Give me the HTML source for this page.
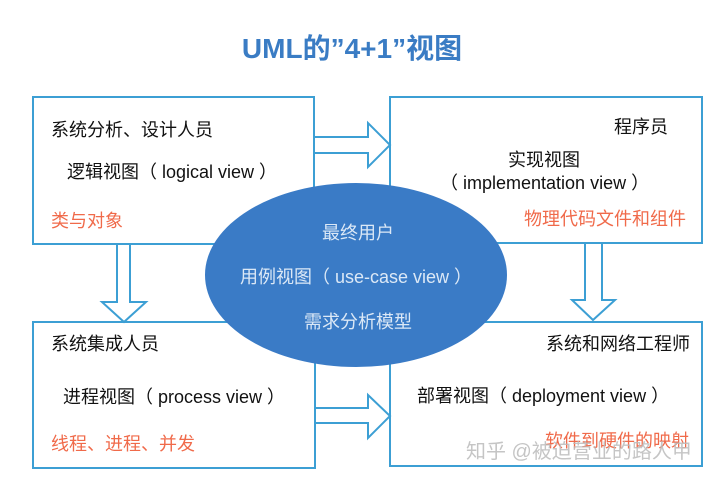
<!DOCTYPE html>
<html><head><meta charset="utf-8"><style>
html,body{margin:0;padding:0;background:#fff;}
svg text{font-family:"Liberation Sans","Noto Sans CJK SC",sans-serif;}
</style></head><body>
<svg width="720" height="480" viewBox="0 0 720 480" xmlns="http://www.w3.org/2000/svg">
<rect width="720" height="480" fill="#fff"/>
<text x="352" y="58" font-size="28" font-weight="bold" fill="#3a7cc4" text-anchor="middle">UML的”4+1”视图</text>
<g fill="#fff" stroke="#3c9fd4" stroke-width="2">
<rect x="33" y="97" width="281" height="147"/>
<rect x="390" y="97" width="312" height="146"/>
<rect x="33" y="322" width="282" height="146"/>
<rect x="390" y="322" width="312" height="144"/>
<polygon points="314,137 368,137 368,123 390,145 368,167 368,153 314,153"/>
<polygon points="315,408 368,408 368,395 390,416 368,438 368,423 315,423"/>
<polygon points="117,244 130,244 130,302 146,302 124,322 102,302 117,302"/>
<polygon points="585,243 602,243 602,300 615,300 593,320 572,300 585,300"/>
</g>
<ellipse cx="356" cy="275" rx="151" ry="92" fill="#3a7bc6"/>
<g font-size="18" fill="#111">
<text x="51" y="136">系统分析、设计人员</text>
<text x="67" y="178">逻辑视图（ logical view ）</text>
<text x="614" y="133">程序员</text>
<text x="508" y="166">实现视图</text>
<text x="440" y="189">（ implementation view ）</text>
<text x="51" y="350">系统集成人员</text>
<text x="63" y="403">进程视图（ process view ）</text>
<text x="546" y="350">系统和网络工程师</text>
<text x="417" y="402">部署视图（ deployment view ）</text>
</g>
<g font-size="18" fill="#f06a4a">
<text x="51" y="227">类与对象</text>
<text x="524" y="225">物理代码文件和组件</text>
<text x="51" y="450">线程、进程、并发</text>
<text x="545" y="447">软件到硬件的映射</text>
</g>
<g font-size="18" fill="#dbe8f6" text-anchor="middle">
<text x="358" y="239">最终用户</text>
<text x="356" y="283">用例视图（ use-case view ）</text>
<text x="358" y="328">需求分析模型</text>
</g>
<text x="466" y="458" font-size="20" fill="#bbb" fill-opacity="0.85">知乎 @被迫营业的路人甲</text>
</svg>
</body></html>
